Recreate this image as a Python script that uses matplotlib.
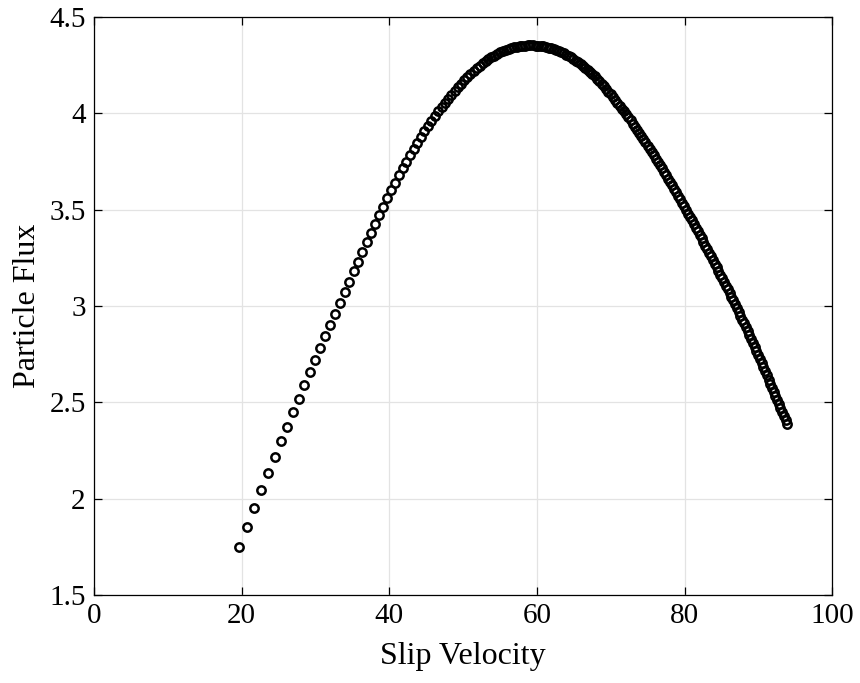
import matplotlib
matplotlib.use("Agg")
import matplotlib.pyplot as plt

# slip velocity / particle flux
slip_velocity = [
    19.63, 20.68, 21.69, 22.65, 23.57, 24.46, 25.31, 26.14, 26.94, 27.72,
    28.47, 29.21, 29.93, 30.63, 31.32, 31.99, 32.65, 33.30, 33.93, 34.55,
    35.16, 35.76, 36.35, 36.93, 37.50, 38.07, 38.62, 39.17, 39.71, 40.24,
    40.77, 41.28, 41.80, 42.30, 42.80, 43.30, 43.78, 44.27, 44.75, 45.22,
    45.69, 46.15, 46.61, 47.06, 47.51, 47.96, 48.40, 48.84, 49.27, 49.70,
    50.13, 50.55, 50.97, 51.39, 51.80, 52.21, 52.61, 53.02, 53.42, 53.81,
    54.21, 54.60, 54.99, 55.37, 55.75, 56.13, 56.51, 56.89, 57.26, 57.63,
    58.00, 58.36, 58.73, 59.09, 59.45, 59.80, 60.16, 60.51, 60.86, 61.21,
    61.56, 61.90, 62.24, 62.59, 62.92, 63.26, 63.60, 63.93, 64.26, 64.59,
    64.92, 65.25, 65.57, 65.90, 66.22, 66.54, 66.86, 67.18, 67.49, 67.81,
    68.12, 68.43, 68.74, 69.05, 69.36, 69.66, 69.97, 70.27, 70.57, 70.87,
    71.17, 71.47, 71.77, 72.07, 72.36, 72.65, 72.95, 73.24, 73.53, 73.82,
    74.10, 74.39, 74.68, 74.96, 75.24, 75.53, 75.81, 76.09, 76.37, 76.64,
    76.92, 77.20, 77.47, 77.75, 78.02, 78.29, 78.56, 78.83, 79.10, 79.37,
    79.64, 79.91, 80.17, 80.44, 80.70, 80.96, 81.23, 81.49, 81.75, 82.01,
    82.27, 82.53, 82.78, 83.04, 83.29, 83.55, 83.80, 84.06, 84.31, 84.56,
    84.81, 85.06, 85.31, 85.56, 85.81, 86.06, 86.31, 86.55, 86.80, 87.04,
    87.29, 87.53, 87.77, 88.01, 88.26, 88.50, 88.74, 88.98, 89.21, 89.45,
    89.69, 89.93, 90.16, 90.40, 90.63, 90.87, 91.10, 91.34, 91.57, 91.80,
    92.03, 92.26, 92.49, 92.72, 92.95, 93.18, 93.41, 93.64, 93.86,
]
particle_flux = [
    1.750, 1.854, 1.952, 2.045, 2.133, 2.217, 2.297, 2.374, 2.448, 2.519,
    2.588, 2.655, 2.720, 2.783, 2.844, 2.903, 2.961, 3.018, 3.073, 3.127,
    3.180, 3.231, 3.281, 3.330, 3.378, 3.425, 3.471, 3.516, 3.559, 3.600,
    3.641, 3.678, 3.716, 3.750, 3.784, 3.817, 3.848, 3.878, 3.907, 3.934,
    3.961, 3.986, 4.010, 4.033, 4.055, 4.077, 4.097, 4.118, 4.136, 4.154,
    4.172, 4.188, 4.205, 4.220, 4.234, 4.247, 4.259, 4.271, 4.281, 4.290,
    4.299, 4.308, 4.316, 4.322, 4.328, 4.334, 4.338, 4.343, 4.346, 4.348,
    4.351, 4.352, 4.353, 4.354, 4.353, 4.352, 4.351, 4.349, 4.347, 4.344,
    4.340, 4.337, 4.333, 4.328, 4.323, 4.317, 4.311, 4.305, 4.298, 4.290,
    4.283, 4.274, 4.266, 4.257, 4.247, 4.237, 4.226, 4.215, 4.204, 4.192,
    4.180, 4.167, 4.154, 4.141, 4.127, 4.113, 4.099, 4.085, 4.070, 4.055,
    4.040, 4.025, 4.010, 3.994, 3.979, 3.963, 3.947, 3.931, 3.915, 3.899,
    3.883, 3.866, 3.849, 3.832, 3.816, 3.799, 3.782, 3.765, 3.748, 3.731,
    3.714, 3.696, 3.679, 3.661, 3.644, 3.626, 3.608, 3.590, 3.572, 3.554,
    3.535, 3.517, 3.499, 3.480, 3.462, 3.444, 3.425, 3.407, 3.389, 3.370,
    3.351, 3.332, 3.314, 3.295, 3.277, 3.258, 3.240, 3.220, 3.201, 3.182,
    3.163, 3.144, 3.125, 3.106, 3.087, 3.068, 3.048, 3.029, 3.009, 2.990,
    2.969, 2.950, 2.930, 2.910, 2.889, 2.869, 2.848, 2.828, 2.808, 2.787,
    2.766, 2.745, 2.725, 2.703, 2.682, 2.661, 2.640, 2.618, 2.597, 2.575,
    2.554, 2.533, 2.512, 2.491, 2.471, 2.449, 2.428, 2.406, 2.386,
]

x_ticks = [0, 20, 40, 60, 80, 100]
x_tick_labels = ["0", "20", "40", "60", "80", "100"]
y_ticks = [1.5, 2, 2.5, 3, 3.5, 4, 4.5]
y_tick_labels = ["1.5", "2", "2.5", "3", "3.5", "4", "4.5"]

plt.rcParams["font.family"] = ["Liberation Serif", "DejaVu Serif"]

fig = plt.figure(figsize=(8.6, 6.83), dpi=100)
ax = fig.add_axes([0.1093, 0.1288, 0.8587, 0.8463])

ax.plot(slip_velocity, particle_flux, "o", mfc="none", mec="black",
        ms=6.0, mew=1.8, zorder=3)

ax.set_xlim(0, 100)
ax.set_ylim(1.5, 4.5)
ax.set_xticks(x_ticks)
ax.set_xticklabels(x_tick_labels)
ax.set_yticks(y_ticks)
ax.set_yticklabels(y_tick_labels)

ax.grid(True, color="#e3e3e3", linewidth=0.9)
ax.set_axisbelow(True)
ax.tick_params(direction="in", length=6, width=0.9, labelsize=21,
               top=True, right=True, pad=6)
for s in ax.spines.values():
    s.set_linewidth(0.9)
    s.set_color("black")

ax.set_xlabel("Slip Velocity", fontsize=23, labelpad=9)
ax.set_ylabel("Particle Flux", fontsize=23, labelpad=5)

fig.savefig("out.png", dpi=100)
